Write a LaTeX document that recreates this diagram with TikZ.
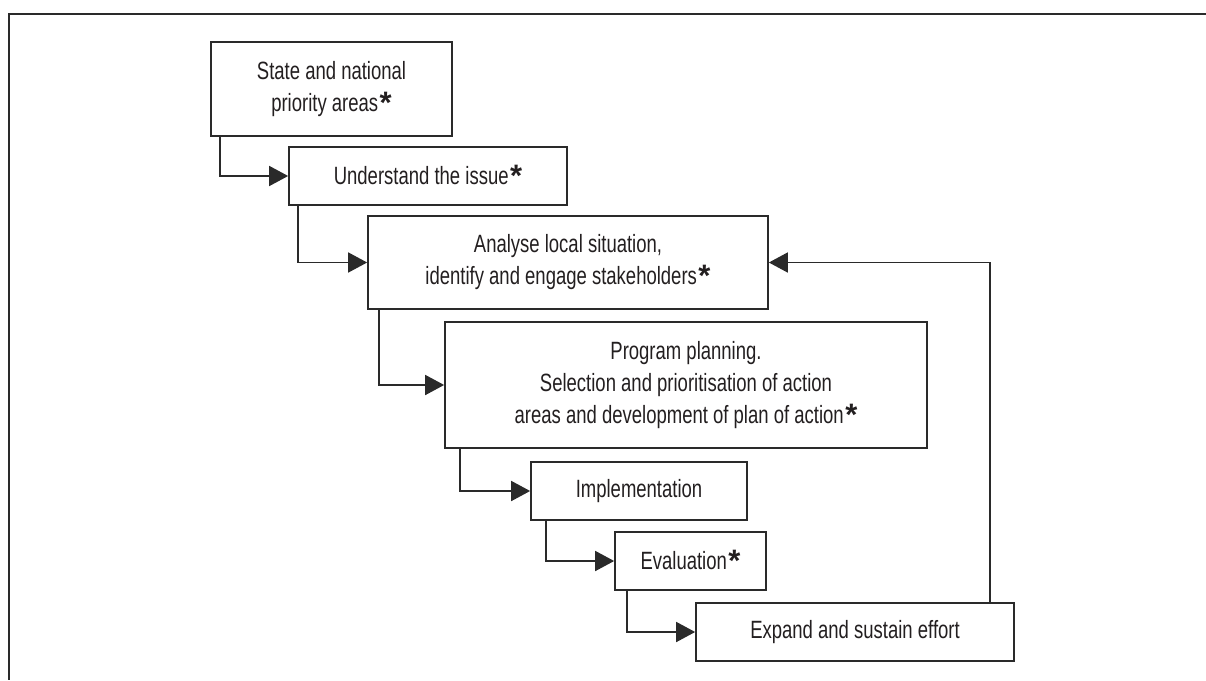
\documentclass[tikz,border=0pt]{standalone}
\usepackage{fontspec}
\setmainfont[FakeStretch=0.74]{Liberation Sans}
\newfontfamily\starfont{Liberation Sans}
\usetikzlibrary{arrows.meta,calc}
\definecolor{ink}{HTML}{231F20}
\definecolor{linec}{HTML}{2A2A2A}
\newcommand{\stepstar}{\hspace{1.5pt}\raisebox{-2pt}{{\starfont\bfseries\fontsize{31}{31}\selectfont *}}}
\tikzset{
  stepbox/.style={draw=linec, line width=1.7pt, rectangle, inner sep=0pt, align=center,
     text=ink, font=\fontsize{25}{32}\selectfont},
  arr/.style={draw=linec, line width=1.7pt, -{Triangle[length=19pt,width=20pt]}},
  framel/.style={draw=linec, line width=2pt}
}
\begin{document}
\begin{tikzpicture}[x=1pt,y=-1pt]
\useasboundingbox (0,0) rectangle (1206,680);
\coordinate (ftl) at (9,14);
\coordinate (ftr) at (1206,14);
\coordinate (fbl) at (9,680);
\draw[framel] (ftr) -- (ftl) -- (fbl);

\node[stepbox, minimum width=241pt, minimum height=94pt] (b1) at (331.5,89) {State and national\\priority areas\stepstar};
\node[stepbox, minimum width=278pt, minimum height=58pt] (b2) at (428,176) {Understand the issue\stepstar};
\node[stepbox, minimum width=400pt, minimum height=93pt] (b3) at (568,262.5) {Analyse local situation,\\identify and engage stakeholders\stepstar};
\node[stepbox, minimum width=482pt, minimum height=126pt] (b4) at (686,385) {Program planning.\\Selection and prioritisation of action\\areas and development of plan of action\stepstar};
\node[stepbox, minimum width=216pt, minimum height=58pt] (b5) at (639,491) {Implementation};
\node[stepbox, minimum width=151pt, minimum height=58pt] (b6) at (690.5,561) {Evaluation\stepstar};
\node[stepbox, minimum width=318pt, minimum height=58pt] (b7) at (855,632) {Expand and sustain effort};

\draw[arr] ($(b1.south west)+(10,0)$) |- (b2.west);
\draw[arr] ($(b2.south west)+(10,0)$) |- (b3.west);
\draw[arr] ($(b3.south west)+(12,0)$) |- (b4.west);
\draw[arr] ($(b4.south west)+(16,0)$) |- (b5.west);
\draw[arr] ($(b5.south west)+(16,0)$) |- (b6.west);
\draw[arr] ($(b6.south west)+(13,0)$) |- (b7.west);
\draw[arr] ($(b7.north east)+(-25,0)$) |- (b3.east);
\end{tikzpicture}
\end{document}
